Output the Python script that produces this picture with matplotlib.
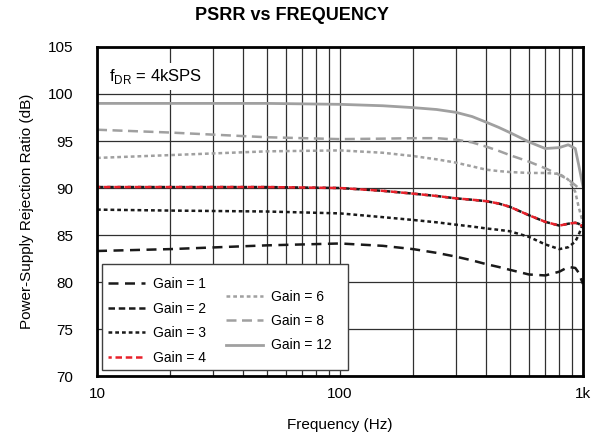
import matplotlib
matplotlib.use("Agg")
import matplotlib.pyplot as plt
from matplotlib.patches import Rectangle
from matplotlib.ticker import FixedLocator, NullFormatter

plt.rcParams['font.family'] = ['Liberation Sans', 'DejaVu Sans']

# 数据：频率 (Hz) 与各增益下的 PSRR (dB)
freq = [10, 20, 50, 100, 150, 200, 250, 300, 350, 400, 450, 500, 600, 700, 800, 870, 930, 960, 1000]
gain1 = [83.3, 83.5, 83.9, 84.1, 83.85, 83.5, 83.1, 82.7, 82.3, 81.9, 81.6, 81.3, 80.8, 80.7, 81.1, 81.6, 81.5, 81.0, 79.8]
gain2 = [90.1, 90.1, 90.1, 90.0, 89.7, 89.4, 89.15, 88.9, 88.75, 88.6, 88.35, 88.0, 87.1, 86.4, 86.0, 86.2, 86.3, 86.2, 85.9]
gain3 = [87.7, 87.6, 87.5, 87.3, 86.9, 86.6, 86.35, 86.1, 85.9, 85.7, 85.55, 85.4, 84.8, 84.0, 83.5, 83.7, 84.3, 85.0, 86.2]
gain4 = [90.1, 90.1, 90.1, 90.0, 89.7, 89.4, 89.15, 88.9, 88.75, 88.6, 88.35, 88.0, 87.1, 86.4, 86.0, 86.2, 86.3, 86.2, 85.9]
gain6 = [93.2, 93.5, 93.9, 94.0, 93.75, 93.4, 93.05, 92.7, 92.3, 91.95, 91.8, 91.7, 91.6, 91.6, 91.5, 90.9, 89.6, 88.0, 86.3]
gain8 = [96.2, 95.9, 95.4, 95.2, 95.25, 95.3, 95.3, 95.15, 94.85, 94.4, 93.95, 93.5, 92.8, 92.1, 91.4, 90.9, 90.3, 90.0, 90.0]
gain12 = [99.0, 99.0, 99.0, 98.9, 98.75, 98.55, 98.35, 98.05, 97.6, 97.0, 96.45, 95.9, 94.9, 94.2, 94.3, 94.6, 94.2, 92.5, 90.2]

y_ticks = [70, 75, 80, 85, 90, 95, 100, 105]
x_ticks = [10, 100, 1000]
x_tick_labels = ['10', '100', '1k']

fig = plt.figure(figsize=(5.93, 4.45), dpi=100)
ax = fig.add_axes([0.1636, 0.155, 0.8194, 0.7394])

# 网格
ax.set_xscale('log')
ax.set_xlim(10, 1000)
ax.set_ylim(70, 105)
ax.xaxis.set_major_locator(FixedLocator(x_ticks))
ax.xaxis.set_minor_locator(FixedLocator([20, 30, 40, 50, 60, 70, 80, 90,
                                         200, 300, 400, 500, 600, 700, 800, 900]))
ax.xaxis.set_minor_formatter(NullFormatter())
ax.set_xticklabels(x_tick_labels)
ax.set_yticks(y_ticks)
ax.grid(True, which='both', color='#303030', linewidth=0.9)
ax.tick_params(which='both', length=0, labelsize=11)
ax.tick_params(axis='y', pad=17)
ax.tick_params(axis='x', pad=8)
for sp in ax.spines.values():
    sp.set_linewidth(2.0)
    sp.set_color('black')

# 曲线
l1, = ax.plot(freq, gain1, color='#1a1a1a', lw=1.8, ls=(0, (4, 2.6)), label='Gain = 1')
l2, = ax.plot(freq, gain2, color='#1a1a1a', lw=1.8, ls=(0, (2.6, 1.5)), label='Gain = 2')
l3, = ax.plot(freq, gain3, color='#1a1a1a', lw=1.8, ls=(0, (1.5, 1.2)), label='Gain = 3')
l4, = ax.plot(freq, gain4, color='#e8202a', lw=1.8, ls=(1.3, (2.6, 1.5)), label='Gain = 4')
l6, = ax.plot(freq, gain6, color='#a0a0a0', lw=1.8, ls=(0, (1.5, 1.2)), label='Gain = 6')
l8, = ax.plot(freq, gain8, color='#a0a0a0', lw=1.8, ls=(0, (4, 2.2)), label='Gain = 8')
l12, = ax.plot(freq, gain12, color='#a0a0a0', lw=2.0, ls='-', label='Gain = 12')

# 图例（两列，第二列垂直居中）
box = Rectangle((0.010, 0.018), 0.506, 0.322, transform=ax.transAxes,
                facecolor='white', edgecolor='#404040', lw=1.0, zorder=4)
ax.add_patch(box)
leg1 = ax.legend(handles=[l1, l2, l3, l4], loc='lower left', bbox_to_anchor=(0.012, 0.018),
                 frameon=False, fontsize=10, handlelength=2.6, labelspacing=0.75,
                 handletextpad=0.6, borderaxespad=0)
leg1.set_zorder(5)
ax.add_artist(leg1)
leg2 = ax.legend(handles=[l6, l8, l12], loc='lower left', bbox_to_anchor=(0.255, 0.055),
                 frameon=False, fontsize=10, handlelength=2.6, labelspacing=0.75,
                 handletextpad=0.6, borderaxespad=0)
leg2.set_zorder(5)

# 注释文字
ax.text(0.025, 0.91, r'f$_{\mathregular{DR}}$ = 4kSPS', transform=ax.transAxes,
        fontsize=12, ha='left', va='center', zorder=5,
        bbox=dict(facecolor='white', edgecolor='none', pad=3))

ax.set_xlabel('Frequency (Hz)', fontsize=11, labelpad=12)
ax.set_ylabel('Power-Supply Rejection Ratio (dB)', fontsize=11, labelpad=10)
fig.text(0.493, 0.965, 'PSRR vs FREQUENCY', ha='center', va='center',
         fontsize=13, fontweight='bold')

plt.savefig('out.png', dpi=100)
plt.close()
